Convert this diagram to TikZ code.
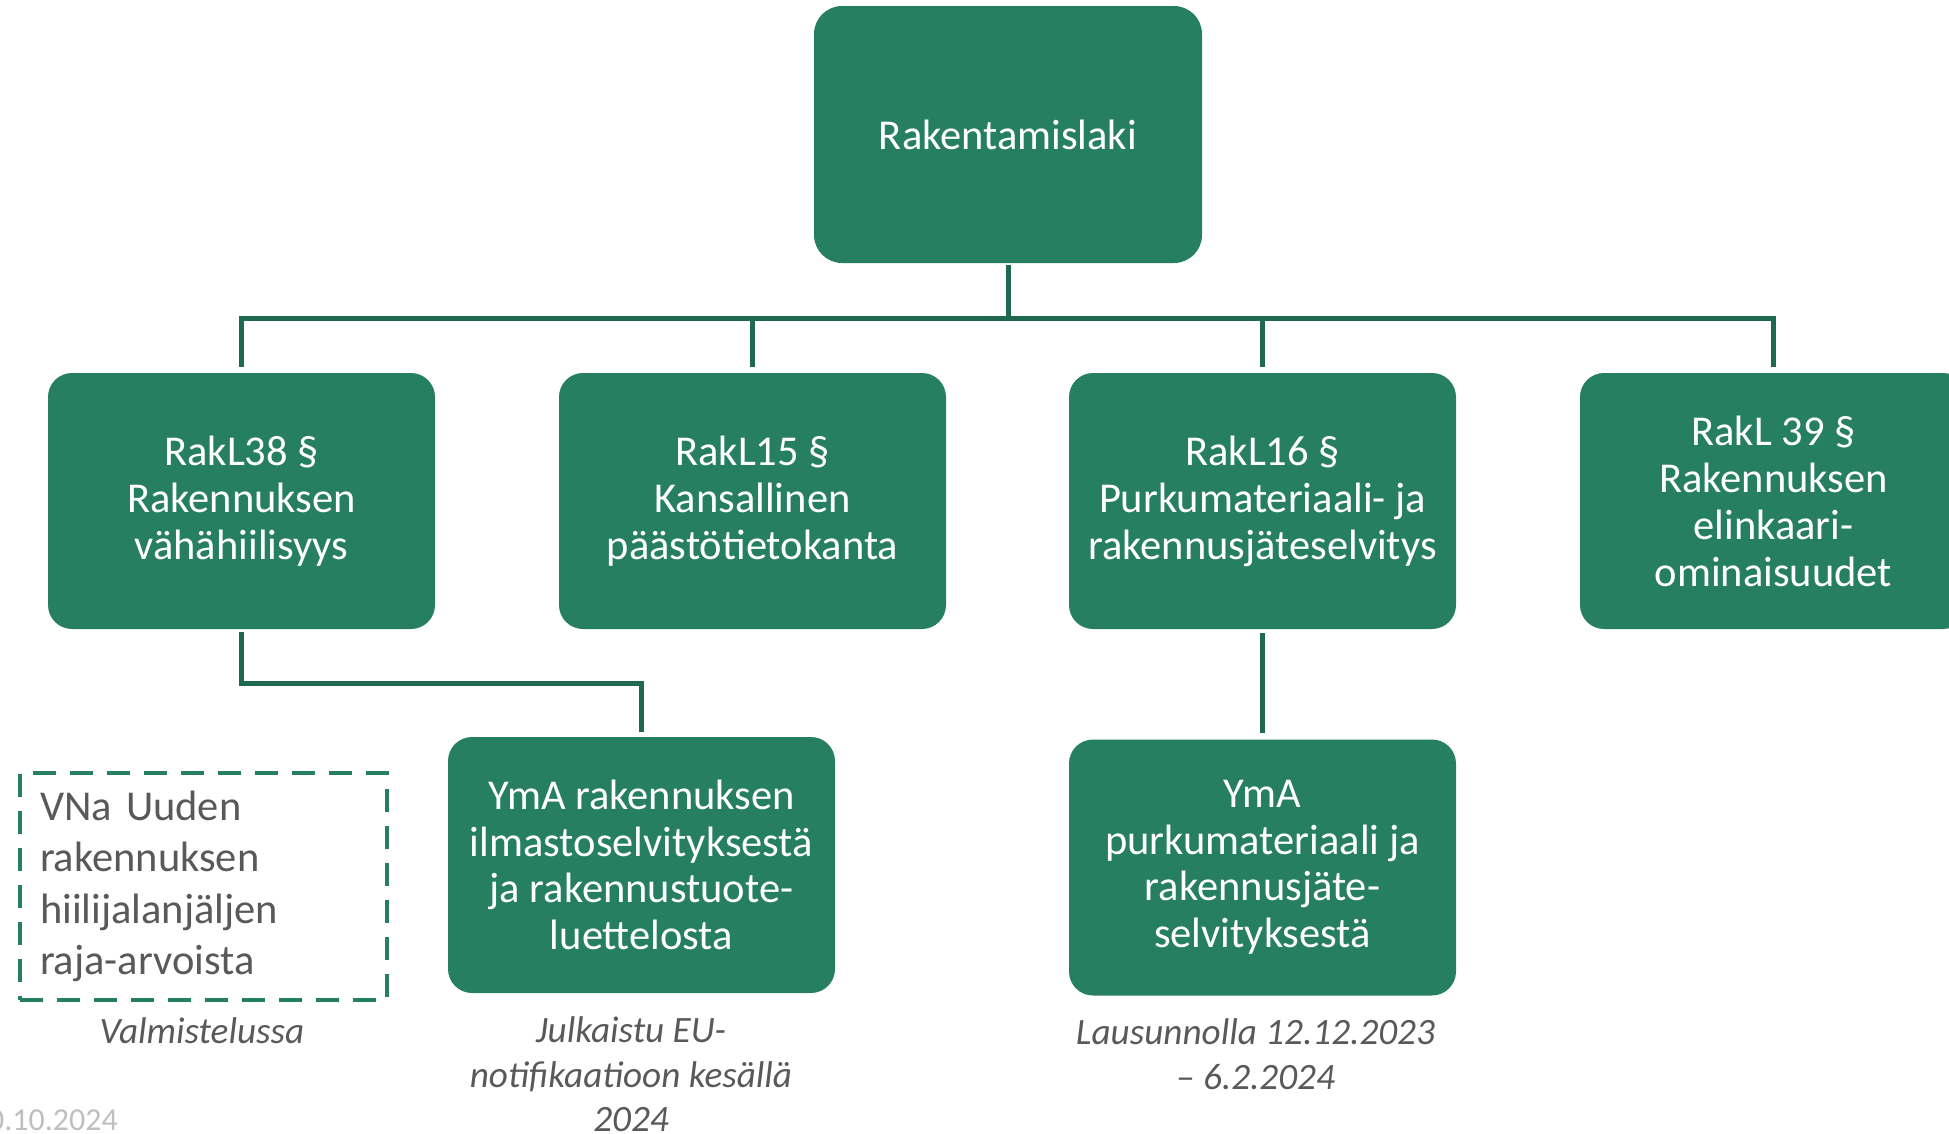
\documentclass[tikz,border=0pt]{standalone}
\usepackage{fontspec}
\setmainfont{Carlito}
\definecolor{boxgreen}{HTML}{267F61}
\definecolor{linegreen}{HTML}{1F6A4F}
\definecolor{txtgray}{HTML}{595959}
\definecolor{dategray}{HTML}{BFBFBF}
\tikzset{
  gbox/.style={fill=boxgreen, draw=none, rounded corners=24pt, minimum width=387pt, minimum height=256pt,
    inner sep=0pt, text=white, align=center},
  lvtwo/.style={gbox, font=\fontsize{42.5}{47}\selectfont},
  lvthree/.style={gbox, font=\fontsize{42.5}{46.5}\selectfont},
  conn/.style={draw=linegreen, line width=5pt},
  capt/.style={text=txtgray, font=\fontsize{37.2}{44.5}\selectfont\itshape, align=center, inner sep=0pt},
}
\begin{document}
\begin{tikzpicture}[x=1pt,y=-1pt]
\useasboundingbox (0,0) rectangle (1949,1133);
\node[gbox, minimum width=388pt, minimum height=257pt, rounded corners=28pt, font=\fontsize{42.5}{48}\selectfont] (top) at (1008,134.5) {Rakentamislaki};
\node[lvtwo] (b1) at (241.5,501) {RakL38 §\\Rakennuksen\\vähähiilisyys};
\node[lvtwo] (b2) at (752.5,501) {RakL15 §\\Kansallinen\\päästötietokanta};
\node[lvtwo] (b3) at (1262.5,501) {RakL16 §\\Purkumateriaali- ja\\rakennusjäteselvitys};
\node[lvtwo] (b4) at (1773.5,501) {RakL 39 §\\Rakennuksen\\elinkaari-\\ominaisuudet};
\node[lvthree] (b5) at (641.5,865) {YmA rakennuksen\\ilmastoselvityksestä\\ja rakennustuote-\\luettelosta};
\node[lvthree] (b6) at (1262.5,867.5) {YmA\\purkumateriaali ja\\rakennusjäte-\\selvityksestä};
\node[draw=boxgreen, line width=4pt, dash pattern=on 23pt off 14pt, minimum width=367pt, minimum height=227pt,
  inner sep=0pt, text width=327pt, align=left, text=txtgray, font=\fontsize{42.5}{51.5}\selectfont] (vna) at (203.5,886.5)
  {VNa Uuden\\rakennuksen\\hiilijalanjäljen\\raja-arvoista};
\node[capt, anchor=base] (c0) at (202,1043) {Valmistelussa};
\node[capt] (c1) at (631,1074.5) {Julkaistu EU-\\notifikaatioon kesällä\\2024};
\node[capt] (c2) at (1255.5,1054) {Lausunnolla 12.12.2023\\– 6.2.2024};
\node[text=dategray, font=\fontsize{32}{36}\selectfont, anchor=base east, inner sep=0pt] (date) at (118,1130) {0.10.2024};
\coordinate (bus) at (1008,318);
\draw[conn, shorten <=2pt] (top.south) -- (bus);
\draw[conn, shorten >=6pt] (bus) -| (b1.north);
\draw[conn, shorten >=6pt] (bus) -| (b2.north);
\draw[conn, shorten >=6pt] (bus) -| (b3.north);
\draw[conn, shorten >=6pt] (bus) -| (b4.north);
\draw[conn, shorten <=3pt, shorten >=5pt] (b1.south) -- ++(0,54) -| (b5.north);
\draw[conn, shorten <=4pt, shorten >=6pt] (b3.south) -- (b6.north);
\end{tikzpicture}
\end{document}
